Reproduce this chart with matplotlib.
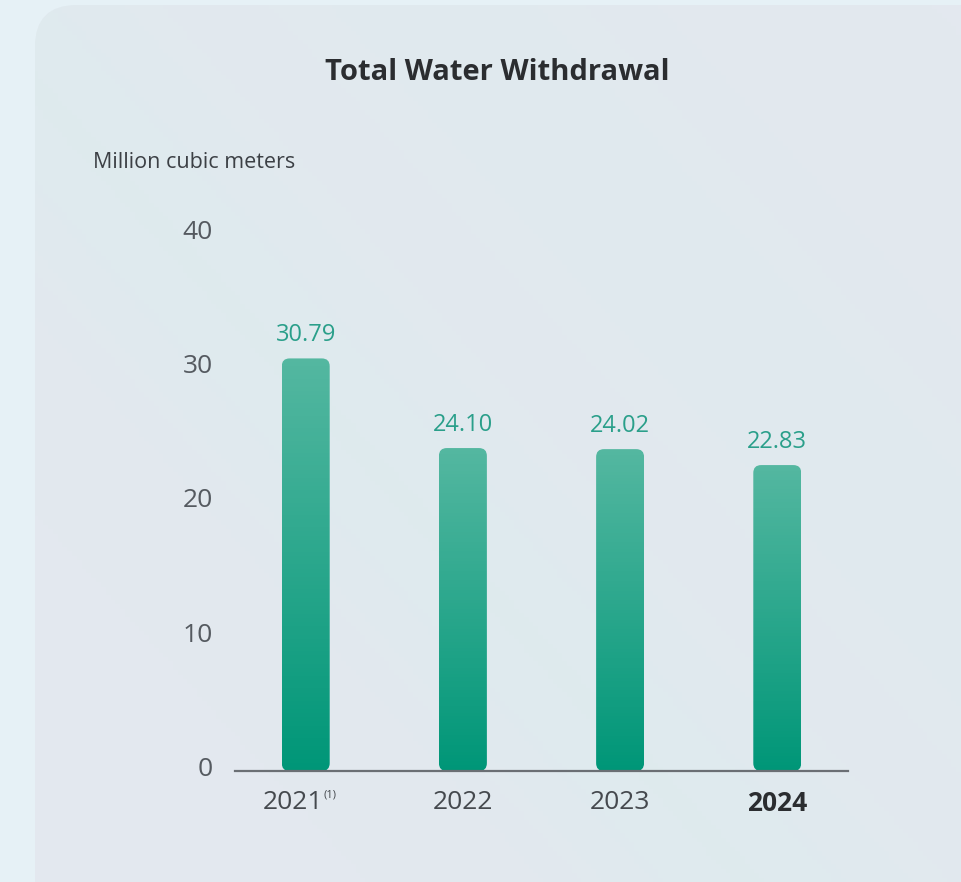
import matplotlib
matplotlib.use("Agg")
import matplotlib.pyplot as plt
import matplotlib.patches as mpatches
import matplotlib.transforms as mtransforms
import numpy as np

plt.rcParams['font.family'] = ['Open Sans', 'DejaVu Sans']

years = ["2021", "2022", "2023", "2024"]
values = [30.79, 24.10, 24.02, 22.83]
value_labels = ["30.79", "24.10", "24.02", "22.83"]
yticks = [0, 10, 20, 30, 40]

fig = plt.figure(figsize=(9.61, 8.82), dpi=100)
fig.patch.set_facecolor("#e6f1f6")

# background card with a soft diagonal sheen
bg = fig.add_axes([0, 0, 1, 1])
bg.set_xlim(0, 961)
bg.set_ylim(882, 0)
bg.axis("off")
card = mpatches.FancyBboxPatch((35, 5), 1000, 950, boxstyle="round,pad=0,rounding_size=42",
                               facecolor="#e3e8ef", edgecolor="none")
bg.add_patch(card)
gx, gy = np.meshgrid(np.linspace(0, 1, 200), np.linspace(0, 1, 200))
d = (gx * 961 - gy * 882 * 0.9) / 961
sheen = np.exp(-((d + 0.05) / 0.18) ** 2) * 0.5 + np.exp(-((d - 0.45) / 0.25) ** 2) * 0.3
rgba = np.zeros((200, 200, 4))
rgba[..., 0] = 0.86
rgba[..., 1] = 0.93
rgba[..., 2] = 0.93
rgba[..., 3] = sheen
im = bg.imshow(rgba, extent=(0, 961, 882, 0), aspect="auto", zorder=1)
im.set_clip_path(card)

ax = fig.add_axes([235 / 961, 111 / 882, 613 / 961, 536 / 882])
ax.patch.set_alpha(0)
x = np.arange(len(years))
w = 0.305
ax.set_xlim(-0.45, 3.45)
ax.set_ylim(0, 40)

bars = ax.bar(x, values, width=w, color="none")
grad = np.linspace(0, 1, 100).reshape(-1, 1)
top = np.array([0.33, 0.72, 0.63])
bot = np.array([0.0, 0.59, 0.47])
cols = (top * (1 - grad) + bot * grad)[:, None, :] * np.ones((1, 2, 1))
for b in bars:
    bx, by = b.get_x(), b.get_y()
    bw, bh = b.get_width(), b.get_height()
    p = mpatches.FancyBboxPatch((bx, by), bw, bh, boxstyle="round,pad=0,rounding_size=0.05",
                                mutation_aspect=11.7, facecolor="none", edgecolor="none")
    ax.add_patch(p)
    g = ax.imshow(cols, extent=(bx, bx + bw, by, by + bh), aspect="auto", origin="upper", zorder=2)
    g.set_clip_path(p)

for xi, v, lab in zip(x, values, value_labels):
    ax.text(xi, v + 0.85, lab, ha="center", va="bottom", fontsize=17, color="#2a9f8a")

for s in ["top", "right", "left"]:
    ax.spines[s].set_visible(False)
ax.spines["bottom"].set_color("#6b6f74")
ax.spines["bottom"].set_linewidth(1.6)
ax.set_yticks(yticks)
ax.set_yticklabels([str(t) for t in yticks], fontsize=19, color="#555a60")
ax.set_xticks(x)
ax.set_xticklabels(years, fontsize=19, color="#45494e")
ax.get_xticklabels()[-1].set_fontweight("bold")
ax.get_xticklabels()[-1].set_color("#2b2d30")
ax.tick_params(axis="both", length=0)
ax.tick_params(axis="y", pad=16)
ax.tick_params(axis="x", pad=14)
shift = mtransforms.ScaledTranslation(0, 5 / 100, fig.dpi_scale_trans)
for t in ax.get_yticklabels():
    t.set_transform(t.get_transform() + shift)
# make room for the footnote marker on 2021
first = ax.get_xticklabels()[0]
first.set_transform(first.get_transform() + mtransforms.ScaledTranslation(-13 / 100, 0, fig.dpi_scale_trans))

ax.annotate("(1)", xy=(0, 0), xycoords=("data", "axes fraction"), xytext=(13, -17),
            textcoords="offset points", fontsize=8, color="#45494e", ha="left", va="center")

fig.text(497 / 961, 1 - 73 / 882, "Total Water Withdrawal", ha="center", va="center",
         fontsize=21, fontweight="bold", color="#2b2d30")
fig.text(93 / 961, 1 - 163 / 882, "Million cubic meters", ha="left", va="center",
         fontsize=15.5, color="#3c4045")

fig.savefig("out.png", dpi=100)
